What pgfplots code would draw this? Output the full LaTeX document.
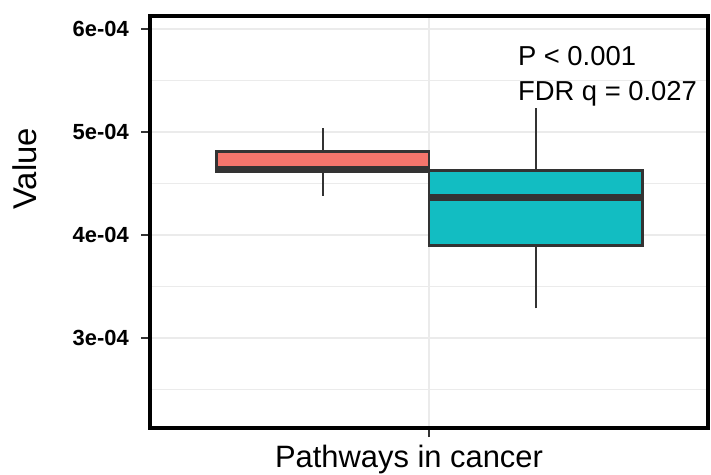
\documentclass[border=0pt]{standalone}
\usepackage{pgfplots}
\pgfplotsset{compat=1.18}
\usepackage{fontspec}
\setmainfont{Liberation Sans}
\definecolor{ggred}{HTML}{F4756C}
\definecolor{ggteal}{HTML}{12BDC2}
\definecolor{gggrid}{HTML}{EBEBEB}
\definecolor{ggdark}{HTML}{333333}
\begin{document}
\begin{tikzpicture}
\useasboundingbox (0bp,0bp) rectangle (711bp,475bp);
\begin{axis}[
  at={(150bp,47bp)}, anchor=south west,
  scale only axis, width=558bp, height=412bp,
  xmin=0.4, xmax=1.6, ymin=2.126e-4, ymax=6.126e-4,
  xtick={1}, xticklabels={Pathways in cancer},
  ytick={3e-4,4e-4,5e-4,6e-4}, yticklabels={3e-04,4e-04,5e-04,6e-04},
  minor ytick={2.5e-4,3.5e-4,4.5e-4,5.5e-4},
  scaled y ticks=false,
  tick pos=left,
  grid=both,
  major grid style={gggrid, line width=1.6bp},
  minor grid style={gggrid, line width=1.3bp},
  minor tick length=0pt,
  tick align=outside, major tick length=9bp,
  tick style={ggdark, line width=2.6bp},
  axis line style={black, line width=3.2bp},
  yticklabel style={font=\bfseries\fontsize{22}{26}\selectfont, inner sep=0pt, xshift=-12bp},
  xticklabel style={font=\fontsize{31}{36}\selectfont, inner sep=0pt, yshift=-8bp, xshift=-20bp},
  ylabel={Value},
  ylabel style={font=\fontsize{33}{38}\selectfont, at={(axis description cs:-0.224,0.629)}, rotate=0, anchor=center},
  clip=false,
]
% group 1 (red): whiskers, box, median
\addplot[ggdark, line width=2.6bp] coordinates {(0.772,4.809e-4) (0.772,5.036e-4)};
\addplot[ggdark, line width=2.6bp] coordinates {(0.772,4.379e-4) (0.772,4.615e-4)};
\addplot[fill=ggred, draw=ggdark, line width=2.6bp] coordinates {(0.543,4.615e-4) (1.0,4.615e-4) (1.0,4.809e-4) (0.543,4.809e-4)} -- cycle;
\addplot[ggdark, line width=6.5bp] coordinates {(0.543,4.64e-4) (1.0,4.64e-4)};
% group 2 (teal)
\addplot[ggdark, line width=2.6bp] coordinates {(1.23,4.624e-4) (1.23,5.236e-4)};
\addplot[ggdark, line width=2.6bp] coordinates {(1.23,3.288e-4) (1.23,3.896e-4)};
\addplot[fill=ggteal, draw=ggdark, line width=2.6bp] coordinates {(1.0,3.896e-4) (1.459,3.896e-4) (1.459,4.624e-4) (1.0,4.624e-4)} -- cycle;
\addplot[ggdark, line width=6.5bp] coordinates {(1.0,4.366e-4) (1.459,4.366e-4)};
\node[anchor=base west, font=\fontsize{27.5}{30}\selectfont, inner sep=0pt] at (axis cs:1.191,5.65e-4) {P < 0.001};
\node[anchor=base west, font=\fontsize{27.5}{30}\selectfont, inner sep=0pt] at (axis cs:1.191,5.31e-4) {FDR q = 0.027};
\end{axis}
\end{tikzpicture}
\end{document}
